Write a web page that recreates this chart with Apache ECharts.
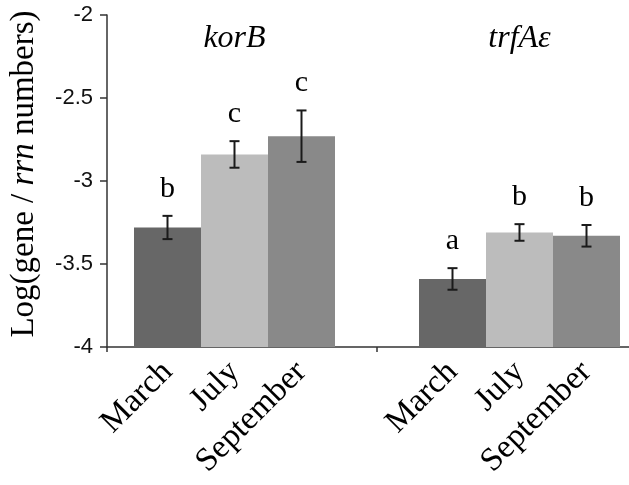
<!DOCTYPE html>
<html>
<head>
<meta charset="utf-8">
<script src="https://cdn.jsdelivr.net/npm/echarts@6/dist/echarts.min.js"></script>
<style>
  html, body { margin: 0; padding: 0; background: #fff; }
  #chart { width: 629px; height: 485px; }
</style>
</head>
<body>
<div id="chart"></div>
<script>
var genes = ['korB', 'trfAε']
var months = ['March', 'July', 'September']
var monthColors = ['#676767', '#bcbcbc', '#898989']
// Log(gene / rrn numbers), one value per gene (korB, trfAε)
var marchValues = [-3.28, -3.59]
var julyValues = [-2.84, -3.31]
var septemberValues = [-2.73, -3.33]
// error bar half lengths
var marchErrors = [0.07, 0.065]
var julyErrors = [0.08, 0.05]
var septemberErrors = [0.155, 0.065]
// significance letters
var marchLetters = ['b', 'a']
var julyLetters = ['c', 'b']
var septemberLetters = ['c', 'b']
var yTicks = [-4, -3.5, -3, -2.5, -2]

var values = [marchValues, julyValues, septemberValues]
var errors = [marchErrors, julyErrors, septemberErrors]
var letters = [marchLetters, julyLetters, septemberLetters]

var serif = 'Liberation Serif'
var axisColor = '#333'
var barWidth = 67

var errData = []
for (var g = 0; g < genes.length; g++) {
  for (var m = 0; m < months.length; m++) {
    errData.push([g, values[m][g], errors[m][g], m, letters[m][g]])
  }
}

var chart = echarts.init(document.getElementById('chart'))

var series = months.map(function (name, m) {
  return {
    name: name,
    type: 'bar',
    xAxisIndex: 0,
    yAxisIndex: 0,
    barWidth: barWidth,
    barGap: '0%',
    itemStyle: { color: monthColors[m] },
    label: {
      show: true,
      formatter: '{a}',
      position: 'bottom',
      distance: 20,
      rotate: 45,
      align: 'right',
      verticalAlign: 'middle',
      fontFamily: serif,
      fontSize: 33,
      color: '#000'
    },
    data: values[m]
  }
})

// error bars + significance letters
series.push({
  type: 'custom',
  xAxisIndex: 0,
  yAxisIndex: 0,
  z: 5,
  renderItem: function (params, api) {
    var layout = api.barLayout({ count: months.length, barWidth: barWidth, barGap: '0%' })
    var g = api.value(0)
    var v = api.value(1)
    var e = api.value(2)
    var m = api.value(3)
    var x = api.coord([g, v])[0] + layout[m].offsetCenter
    var top = api.coord([g, v + e])[1]
    var bot = api.coord([g, v - e])[1]
    var style = { stroke: '#1a1a1a', lineWidth: 2 }
    return {
      type: 'group',
      children: [
        { type: 'line', shape: { x1: x, y1: top, x2: x, y2: bot }, style: style },
        { type: 'line', shape: { x1: x - 5, y1: top, x2: x + 5, y2: top }, style: style },
        { type: 'line', shape: { x1: x - 5, y1: bot, x2: x + 5, y2: bot }, style: style },
        {
          type: 'text',
          x: x,
          y: top - 27,
          style: {
            text: errData[params.dataIndex][4],
            font: '30px "' + serif + '"',
            fill: '#000',
            align: 'center',
            verticalAlign: 'middle'
          }
        }
      ]
    }
  },
  data: errData
})

chart.setOption({
  animation: false,
  grid: [
    { left: 92, width: 570, top: 15, bottom: 138, outerBoundsMode: 'none' },
    { left: 107, width: 540, top: 15, bottom: 138, outerBoundsMode: 'none' }
  ],
  xAxis: [
    {
      type: 'category',
      gridIndex: 0,
      data: genes,
      axisLine: { show: false },
      axisTick: { show: false },
      axisLabel: { show: false }
    },
    {
      type: 'category',
      gridIndex: 1,
      data: genes,
      axisLine: { show: true, lineStyle: { color: axisColor, width: 1.5 } },
      axisTick: { show: true, length: 5, lineStyle: { color: axisColor, width: 1.5 } },
      axisLabel: { show: false },
      splitLine: { show: false }
    },
    {
      type: 'category',
      gridIndex: 0,
      position: 'top',
      data: genes,
      axisLine: { show: false },
      axisTick: { show: false },
      axisLabel: {
        inside: true,
        margin: 8,
        fontFamily: serif,
        fontStyle: 'italic',
        fontSize: 32,
        color: '#000'
      }
    }
  ],
  yAxis: [
    {
      type: 'value',
      gridIndex: 0,
      min: yTicks[0],
      max: yTicks[yTicks.length - 1],
      interval: yTicks[1] - yTicks[0],
      startValue: yTicks[0],
      offset: -15,
      axisLine: { show: false },
      axisTick: { show: false },
      axisLabel: {
        show: true,
        margin: 14,
        fontFamily: 'sans-serif',
        fontSize: 22,
        color: '#111'
      },
      splitLine: { show: false }
    },
    {
      type: 'value',
      gridIndex: 1,
      min: yTicks[0],
      max: yTicks[yTicks.length - 1],
      interval: yTicks[1] - yTicks[0],
      name: '{n|Log(gene / }{i|rrn}{n| numbers)}',
      nameLocation: 'middle',
      nameRotate: 90,
      nameGap: 66,
      nameTextStyle: {
        padding: [0, 0, 0, 14],
        rich: {
          n: { fontFamily: serif, fontSize: 33, color: '#000' },
          i: { fontFamily: serif, fontSize: 33, fontStyle: 'italic', color: '#000' }
        }
      },
      axisLine: { show: true, lineStyle: { color: axisColor, width: 1.5 } },
      axisTick: { show: true, length: 7, lineStyle: { color: axisColor, width: 1.5 } },
      axisLabel: { show: false },
      splitLine: { show: false }
    }
  ],
  series: series
})
</script>
</body>
</html>
